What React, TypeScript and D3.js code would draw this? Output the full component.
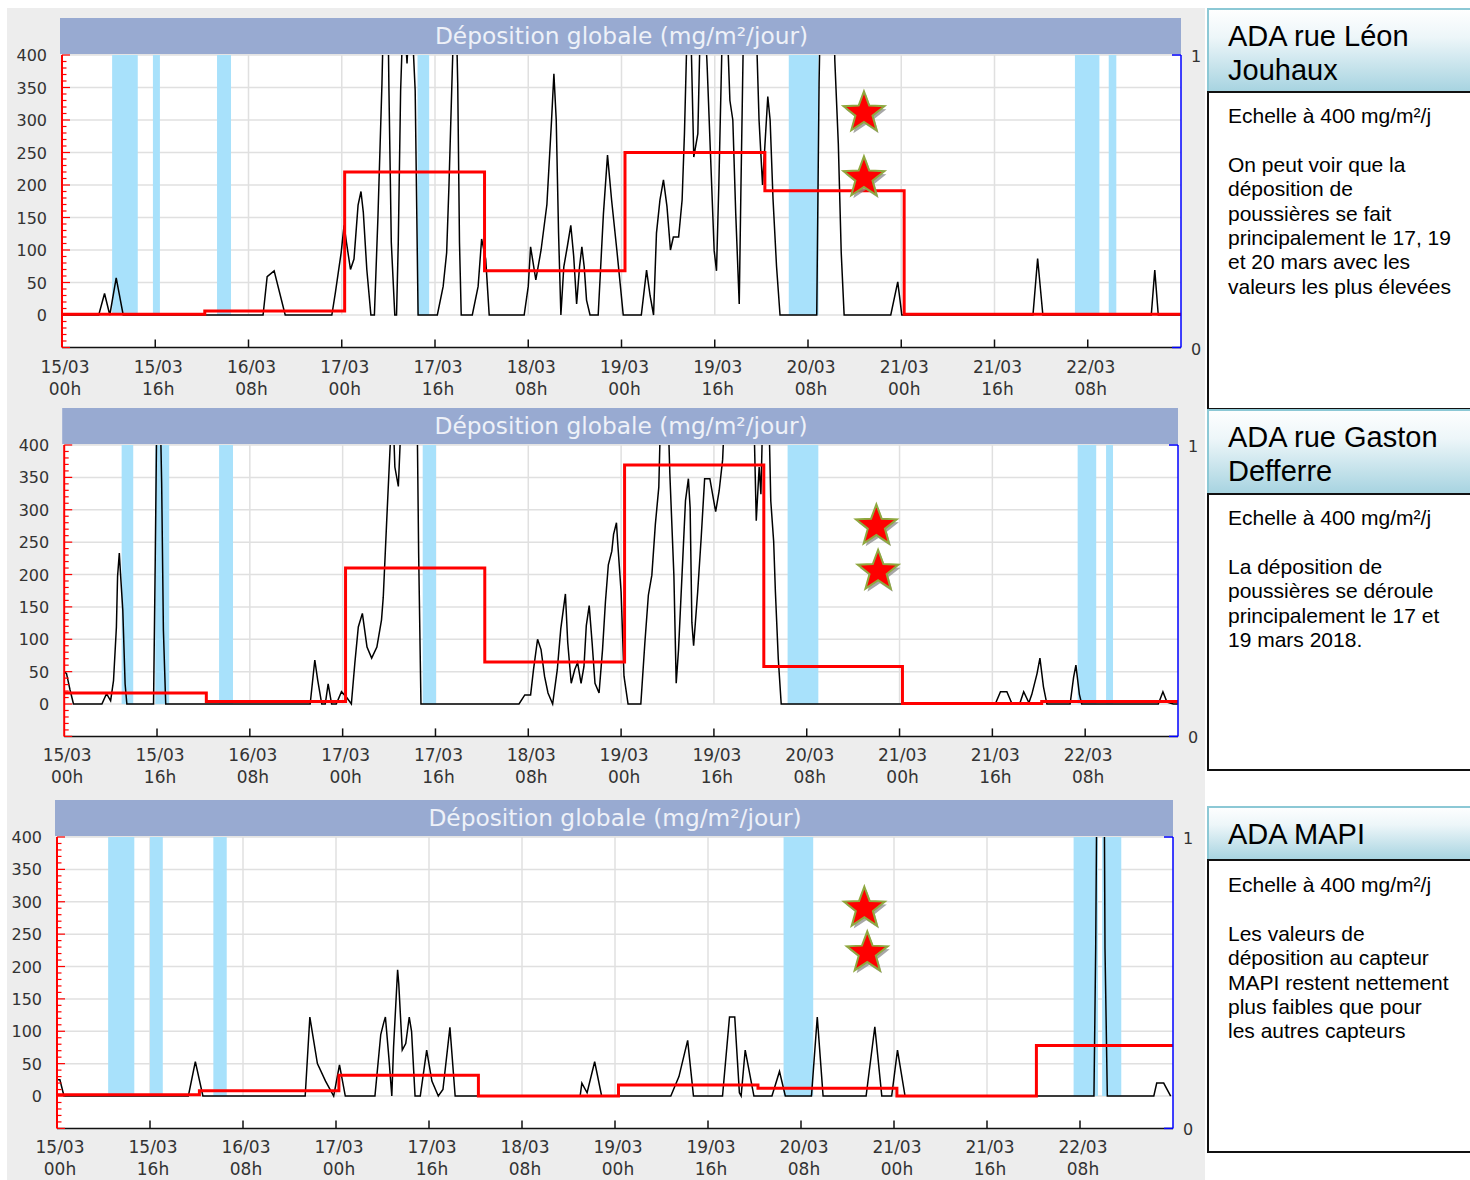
import React from 'react';
import * as d3 from 'd3';

type Pt = [number, number];

// ---- shared axis data ----
const HOUR_TICKS = [0, 16, 32, 48, 64, 80, 96, 112, 128, 144, 160, 176];
const TICK_LABELS: [string, string][] = [
  ['15/03', '00h'], ['15/03', '16h'], ['16/03', '08h'], ['17/03', '00h'],
  ['17/03', '16h'], ['18/03', '08h'], ['19/03', '00h'], ['19/03', '16h'],
  ['20/03', '08h'], ['21/03', '00h'], ['21/03', '16h'], ['22/03', '08h'],
];
const Y_TICKS = [0, 50, 100, 150, 200, 250, 300, 350, 400];
const DAY_BOUNDS = [0, 24.5, 48.5, 72.5, 96.6, 120.6, 144.5, 168.5, 192];
const TITLE = 'Déposition globale (mg/m²/jour)';

// ---- panel 1 : ADA rue Léon Jouhaux ----
const P1_SERIES: Pt[] = [
  [0, 0], [6.3, 0], [7.3, 33], [8.2, 0], [9.3, 57], [10.5, 0],
  [34.5, 0], [35.2, 59], [36.4, 68], [38.3, 0],
  [46.3, 0], [46.9, 34], [47.9, 96], [48.4, 138], [48.8, 112], [49.5, 70], [50.1, 86], [50.8, 169], [51.3, 190], [51.7, 158], [52.3, 70], [53.0, 0], [53.6, 0], [54.2, 148], [54.9, 356], [55.4, 560], [55.8, 560], [56.1, 345], [56.5, 112], [57.1, 0], [57.4, 0], [57.7, 112], [58.1, 345], [58.6, 480], [59.2, 387], [59.8, 500], [60.6, 345], [61.1, 0],
  [64.4, 0], [65.4, 44], [66.0, 96], [66.4, 200], [66.9, 356], [67.3, 480], [67.6, 480], [67.9, 356], [68.2, 112], [68.5, 0],
  [70.4, 0], [71.4, 44], [72.0, 117], [72.7, 86], [73.3, 0],
  [79.3, 0], [80.0, 44], [80.4, 105], [81.3, 54], [82.2, 100], [83.2, 170], [84.0, 300], [84.4, 371], [84.8, 300], [85.2, 126], [85.6, 0], [86.1, 74], [86.7, 105], [87.3, 138], [87.8, 90], [88.3, 17], [88.8, 74], [89.2, 105], [89.6, 74], [90.0, 23], [90.6, 0],
  [92.0, 0], [92.9, 156], [93.6, 246], [94.3, 177], [95.2, 100], [96.3, 0],
  [99.4, 0], [100.3, 69], [100.9, 30], [101.5, 0], [102.0, 126], [102.6, 177], [103.2, 208], [103.8, 167], [104.4, 100], [104.9, 120], [105.8, 120], [106.4, 177], [106.8, 279], [107.2, 420], [107.8, 480], [108.4, 243], [109.1, 279], [109.6, 480], [110.2, 480], [110.7, 382], [111.3, 240], [111.9, 99], [112.3, 68], [112.7, 200], [113.4, 480], [114.0, 480], [114.6, 330], [115.1, 300], [115.6, 156], [116.2, 17], [116.5, 200], [117.0, 480], [119.0, 480], [119.6, 300], [120.2, 200], [120.6, 260], [121.1, 336], [121.5, 300], [122.0, 178], [122.6, 75], [123.2, 0],
  [129.5, 0], [129.9, 356], [130.3, 560], [132.2, 560], [132.6, 392], [133.2, 264], [133.7, 96], [134.2, 0],
  [142.2, 0], [143.4, 51], [144.1, 0],
  [166.6, 0], [167.4, 87], [168.3, 0],
  [186.9, 0], [187.5, 69], [188.1, 0], [192, 0],
];
const P1_DAILY = [1, 6, 220, 68, 250, 191, 1, 1];
const P1_BANDS: Pt[] = [[8.6, 13.0], [15.6, 16.8], [26.6, 29.0], [61.0, 63.0], [124.7, 129.8], [173.8, 178.0], [179.6, 180.9]];
const P1_STARS: Pt[] = [[137.6, 311], [137.6, 211]];
const P1_NAME = ['ADA rue Léon', 'Jouhaux'];
const P1_TEXT = ['Echelle à 400 mg/m²/j', '', 'On peut voir que la', 'déposition de', 'poussières se fait', 'principalement le 17, 19', 'et 20 mars avec les', 'valeurs les plus élevées'];

// ---- panel 2 : ADA rue Gaston Defferre ----
const P2_SERIES: Pt[] = [
  [0, 50], [0.4, 47], [1.0, 22], [1.6, 0], [6.5, 0], [7.3, 16], [8.0, 5], [8.5, 36], [9.0, 119], [9.2, 197], [9.5, 233], [9.7, 202], [10.1, 145], [10.5, 31], [10.8, 0],
  [15.4, 0], [15.7, 227], [16.0, 480], [16.5, 480], [16.8, 341], [17.1, 114], [17.5, 0],
  [42.4, 0], [43.2, 68], [43.7, 37], [44.4, 0], [45.0, 0], [45.5, 31], [46.1, 0], [46.9, 0], [47.8, 19], [48.7, 10], [49.5, 0], [50.1, 63], [50.7, 119], [51.4, 140], [52.2, 88], [53.0, 71], [53.9, 88], [54.7, 130], [55.0, 165], [55.6, 284], [56.2, 400], [56.5, 460], [56.8, 420], [57.0, 366], [57.6, 336], [57.9, 400], [58.3, 480], [60.8, 480], [61.1, 233], [61.5, 0],
  [78.4, 0], [79.4, 14], [80.4, 14], [80.9, 53], [81.6, 100], [82.2, 84], [82.8, 43], [83.4, 17], [84.2, 0], [85.0, 53], [85.6, 116], [86.4, 170], [86.8, 95], [87.4, 32], [88.0, 53], [88.5, 64], [89.1, 32], [89.6, 58], [90.0, 121], [90.5, 152], [91.0, 95], [91.5, 32], [92.2, 17], [92.8, 84], [93.3, 158], [93.8, 215], [94.4, 236], [94.7, 262], [95.2, 280], [95.4, 251], [96.0, 173], [96.5, 43], [97.2, 0],
  [99.4, 0], [100.1, 95], [100.7, 168], [101.3, 199], [101.9, 277], [102.5, 335], [102.9, 480], [104.0, 480], [104.4, 356], [105.1, 199], [105.5, 32], [105.9, 84], [106.5, 199], [107.1, 314], [107.6, 348], [107.9, 303], [108.2, 126], [108.5, 90], [109.2, 173], [109.8, 256], [110.4, 348], [111.3, 348], [112.3, 297], [112.9, 329], [113.5, 377], [114.0, 480], [118.8, 480], [119.3, 283], [119.8, 366], [120.1, 324], [120.5, 480], [121.4, 480], [121.8, 314], [122.3, 251], [122.6, 173], [123.1, 69], [123.6, 0],
  [160.5, 0], [161.4, 19], [162.5, 19], [163.4, 0], [164.7, 0], [165.4, 19], [166.3, 2], [166.8, 15], [167.7, 47], [168.2, 71], [168.8, 27], [169.4, 0],
  [173.4, 0], [174.0, 41], [174.4, 60], [175.0, 15], [175.4, 0],
  [188.6, 0], [189.4, 19], [190.1, 3], [191.2, 0], [192, 0],
];
const P2_DAILY = [17, 4, 210, 65, 369, 58, 1, 4];
const P2_BANDS: Pt[] = [[9.9, 11.9], [15.7, 18.1], [26.7, 29.1], [61.8, 64.1], [124.7, 130.0], [174.7, 177.9], [179.6, 180.8]];
const P2_STARS: Pt[] = [[140.0, 275], [140.3, 205]];
const P2_NAME = ['ADA rue Gaston', 'Defferre'];
const P2_TEXT = ['Echelle à 400 mg/m²/j', '', 'La déposition de', 'poussières se déroule', 'principalement le 17 et', '19 mars 2018.'];

// ---- panel 3 : ADA MAPI ----
const P3_SERIES: Pt[] = [
  [0, 25], [0.5, 25], [1.2, 0],
  [22.6, 0], [23.8, 53], [25.1, 0],
  [42.7, 0], [43.5, 122], [44.8, 50], [46.2, 23], [47.6, 0], [48.6, 48], [49.6, 0],
  [54.7, 0], [55.7, 95], [56.2, 113], [56.5, 122], [57.1, 59], [57.6, 0], [57.9, 75], [58.6, 195], [58.8, 173], [59.4, 71], [60.0, 81], [60.6, 122], [61.0, 100], [61.6, 0],
  [62.5, 0], [63.6, 71], [64.5, 23], [65.6, 0], [66.4, 10], [67.6, 106], [68.5, 0],
  [90.0, 0], [90.3, 20], [91.2, 5], [92.5, 53], [93.7, 0],
  [105.6, 0], [107.0, 30], [108.5, 86], [109.5, 0],
  [114.5, 0], [115.7, 122], [116.6, 122], [117.4, 5], [117.7, 0], [118.4, 71], [119.9, 0],
  [123.0, 0], [124.3, 38], [125.3, 0],
  [129.8, 0], [130.8, 122], [131.8, 0],
  [139.2, 0], [140.7, 107], [141.9, 0], [143.6, 0], [144.6, 71], [145.9, 0],
  [178.4, 0], [178.7, 228], [179.0, 600], [180.1, 600], [180.3, 228], [180.7, 0],
  [188.7, 0], [189.2, 20], [190.4, 20], [191.6, 0],
];
const P3_DAILY = [2, 8, 32, 0, 17, 12, 0, 78];
const P3_BANDS: Pt[] = [[8.8, 13.3], [16.0, 18.2], [26.9, 29.2], [125.0, 130.1], [174.9, 179.1], [179.8, 183.1]];
const P3_STARS: Pt[] = [[138.9, 290], [139.4, 221]];
const P3_NAME = ['ADA MAPI'];
const P3_TEXT = ['Echelle à 400 mg/m²/j', '', 'Les valeurs de', 'déposition au capteur', 'MAPI restent nettement', 'plus faibles que pour', 'les autres capteurs'];

// ---- layout ----
const PANELS = [
  { left: 62, right: 1181, top: 55, bottom: 347.5, titleTop: 18, series: P1_SERIES, daily: P1_DAILY, bands: P1_BANDS, stars: P1_STARS },
  { left: 64.2, right: 1178, top: 445, bottom: 736.4, titleTop: 408, series: P2_SERIES, daily: P2_DAILY, bands: P2_BANDS, stars: P2_STARS },
  { left: 57, right: 1173, top: 837, bottom: 1128.4, titleTop: 800, series: P3_SERIES, daily: P3_DAILY, bands: P3_BANDS, stars: P3_STARS },
];
const BOXES = [
  { top: 8, headBottom: 92, bottom: 409, name: P1_NAME, text: P1_TEXT, nameBase: 46, textBase: 123 },
  { top: 409, headBottom: 494, bottom: 770, name: P2_NAME, text: P2_TEXT, nameBase: 447, textBase: 525 },
  { top: 806, headBottom: 860, bottom: 1152, name: P3_NAME, text: P3_TEXT, nameBase: 844, textBase: 892 },
];

const TICK_FONT = '"DejaVu Sans", Verdana, sans-serif';
const BOX_FONT = '"Liberation Sans", Arial, sans-serif';

function starPath(cx: number, cy: number, R: number, r: number) {
  const pts: string[] = [];
  for (let i = 0; i < 10; i++) {
    const a = -Math.PI / 2 + (i * Math.PI) / 5;
    const rad = i % 2 === 0 ? R : r;
    pts.push(`${(cx + rad * Math.cos(a)).toFixed(2)},${(cy + rad * Math.sin(a)).toFixed(2)}`);
  }
  return 'M' + pts.join('L') + 'Z';
}

function ChartPanel({ p, idx }: { p: typeof PANELS[number]; idx: number }) {
  const x = d3.scaleLinear().domain([0, 192]).range([p.left, p.right]);
  const y = d3.scaleLinear().domain([-50, 400]).range([p.bottom, p.top]);
  const line = d3.line<Pt>().x(d => x(d[0])).y(d => y(d[1]));
  const stepData: Pt[] = DAY_BOUNDS.map((b, i) => [b, p.daily[Math.min(i, p.daily.length - 1)]] as Pt);
  const step = d3.line<Pt>().x(d => x(d[0])).y(d => y(d[1])).curve(d3.curveStepAfter);
  const minor = d3.range(-50, 401, 10);
  const clipId = `clip${idx}`;
  return (
    <g>
      <defs>
        <clipPath id={clipId}>
          <rect x={p.left} y={p.top} width={p.right - p.left} height={p.bottom - p.top} />
        </clipPath>
      </defs>
      {/* title bar */}
      <rect x={p.left - 2} y={p.titleTop} width={p.right - p.left + 2} height={p.top - p.titleTop - 1} fill="#98AAD1" />
      <text x={(p.left + p.right) / 2} y={p.titleTop + 26} textAnchor="middle" fontFamily={TICK_FONT} fontSize={23.3} fill="#EEF1F8">{TITLE}</text>
      {/* plot bg */}
      <rect x={p.left} y={p.top} width={p.right - p.left} height={p.bottom - p.top} fill="#FFFFFF" />
      {/* gridlines */}
      {Y_TICKS.map(t => (
        <line key={'h' + t} x1={p.left} x2={p.right} y1={y(t)} y2={y(t)} stroke="#E0E0E0" strokeWidth={1.5} />
      ))}
      {HOUR_TICKS.slice(1).map(t => (
        <line key={'v' + t} x1={x(t)} x2={x(t)} y1={p.top} y2={y(0)} stroke="#E0E0E0" strokeWidth={1.5} />
      ))}
      {/* rain bands */}
      {p.bands.map((b, i) => (
        <rect key={'b' + i} x={x(b[0])} y={p.top} width={x(b[1]) - x(b[0])} height={y(0) - p.top} fill="#A8E1FB" />
      ))}
      {/* black series */}
      <path d={line(p.series) || ''} fill="none" stroke="#000" strokeWidth={1.5} clipPath={`url(#${clipId})`} />
      {/* red daily */}
      <path d={step(stepData) || ''} fill="none" stroke="#FF0000" strokeWidth={3} clipPath={`url(#${clipId})`} />
      {/* bottom axis */}
      <line x1={p.left} x2={p.right} y1={p.bottom} y2={p.bottom} stroke="#111" strokeWidth={1.5} />
      {HOUR_TICKS.slice(1).map(t => (
        <line key={'t' + t} x1={x(t)} x2={x(t)} y1={p.bottom} y2={p.bottom - 8} stroke="#111" strokeWidth={1.5} />
      ))}
      {HOUR_TICKS.map((t, i) => (
        <g key={'l' + t} fontFamily={TICK_FONT} fontSize={17} fill="#333" textAnchor="middle">
          <text x={x(t) + 3} y={p.bottom + 25}>{TICK_LABELS[i][0]}</text>
          <text x={x(t) + 3} y={p.bottom + 47}>{TICK_LABELS[i][1]}</text>
        </g>
      ))}
      {/* left red axis */}
      <line x1={p.left} x2={p.left} y1={p.top} y2={p.bottom} stroke="#FF0000" strokeWidth={2} />
      {minor.map(t => (
        <line key={'m' + t} x1={p.left} x2={p.left + (t % 50 === 0 ? 8 : 4.5)} y1={y(t)} y2={y(t)} stroke="#FF0000" strokeWidth={1.2} />
      ))}
      {Y_TICKS.map(t => (
        <text key={'y' + t} x={p.left - 15} y={y(t) + 6} textAnchor="end" fontFamily={TICK_FONT} fontSize={16} fill="#333">{t}</text>
      ))}
      {/* right blue axis */}
      <line x1={p.right} x2={p.right} y1={p.top} y2={p.bottom} stroke="#0000FF" strokeWidth={1.5} />
      <line x1={p.right - 9} x2={p.right} y1={p.top} y2={p.top} stroke="#0000FF" strokeWidth={1.5} />
      <line x1={p.right - 9} x2={p.right} y1={p.bottom} y2={p.bottom} stroke="#0000FF" strokeWidth={1.5} />
      <text x={p.right + 15} y={p.top + 7} textAnchor="middle" fontFamily={TICK_FONT} fontSize={16} fill="#333">1</text>
      <text x={p.right + 15} y={p.bottom + 7} textAnchor="middle" fontFamily={TICK_FONT} fontSize={16} fill="#333">0</text>
      {/* stars */}
      {p.stars.map((s, i) => (
        <g key={'s' + i}>
          <path d={starPath(x(s[0]) + 2, y(s[1]) + 3, 21.5, 9)} fill="#8A8A8A" opacity={0.75} />
          <path d={starPath(x(s[0]), y(s[1]), 21.5, 9)} fill="#FF0000" stroke="#8FA83F" strokeWidth={2} strokeLinejoin="miter" />
        </g>
      ))}
    </g>
  );
}

function InfoBox({ b, idx }: { b: typeof BOXES[number]; idx: number }) {
  const left = 1207;
  const gid = `hg${idx}`;
  return (
    <g>
      <defs>
        <linearGradient id={gid} x1="0" y1="0" x2="0" y2="1">
          <stop offset="0" stopColor="#FFFFFF" />
          <stop offset="0.35" stopColor="#EDF6F9" />
          <stop offset="1" stopColor="#A6D3E0" />
        </linearGradient>
      </defs>
      <rect x={left} y={b.top} width={1470 - left} height={b.headBottom - b.top} fill={`url(#${gid})`} />
      <line x1={left} x2={1470} y1={b.top + 1} y2={b.top + 1} stroke="#8CC8D5" strokeWidth={2} />
      <line x1={left + 1} x2={left + 1} y1={b.top} y2={b.headBottom} stroke="#8CC8D5" strokeWidth={2} />
      <rect x={left} y={b.headBottom} width={1470 - left} height={b.bottom - b.headBottom} fill="#FFFFFF" />
      <line x1={left} x2={1470} y1={b.headBottom} y2={b.headBottom} stroke="#111" strokeWidth={2} />
      <line x1={left + 1} x2={left + 1} y1={b.headBottom} y2={b.bottom} stroke="#111" strokeWidth={2} />
      <line x1={left} x2={1470} y1={b.bottom} y2={b.bottom} stroke="#111" strokeWidth={2} />
      {b.name.map((n, i) => (
        <text key={'n' + i} x={1228} y={b.nameBase + i * 34} fontFamily={BOX_FONT} fontSize={29} fill="#000">{n}</text>
      ))}
      {b.text.map((t, i) => (
        <text key={'t' + i} x={1228} y={b.textBase + i * 24.4} fontFamily={BOX_FONT} fontSize={21} fill="#000">{t}</text>
      ))}
    </g>
  );
}

export default function App() {
  return (
    <div style={{ position: 'absolute', left: 0, top: 0 }}>
      <svg width={1470} height={1180} viewBox="0 0 1470 1180" style={{ display: 'block' }}>
        <rect x={0} y={0} width={1470} height={1180} fill="#FFFFFF" />
        <rect x={7} y={8} width={1198} height={1172} fill="#EDEDED" />
        {PANELS.map((p, i) => <ChartPanel key={i} p={p} idx={i} />)}
        {BOXES.map((b, i) => <InfoBox key={i} b={b} idx={i} />)}
      </svg>
    </div>
  );
}
